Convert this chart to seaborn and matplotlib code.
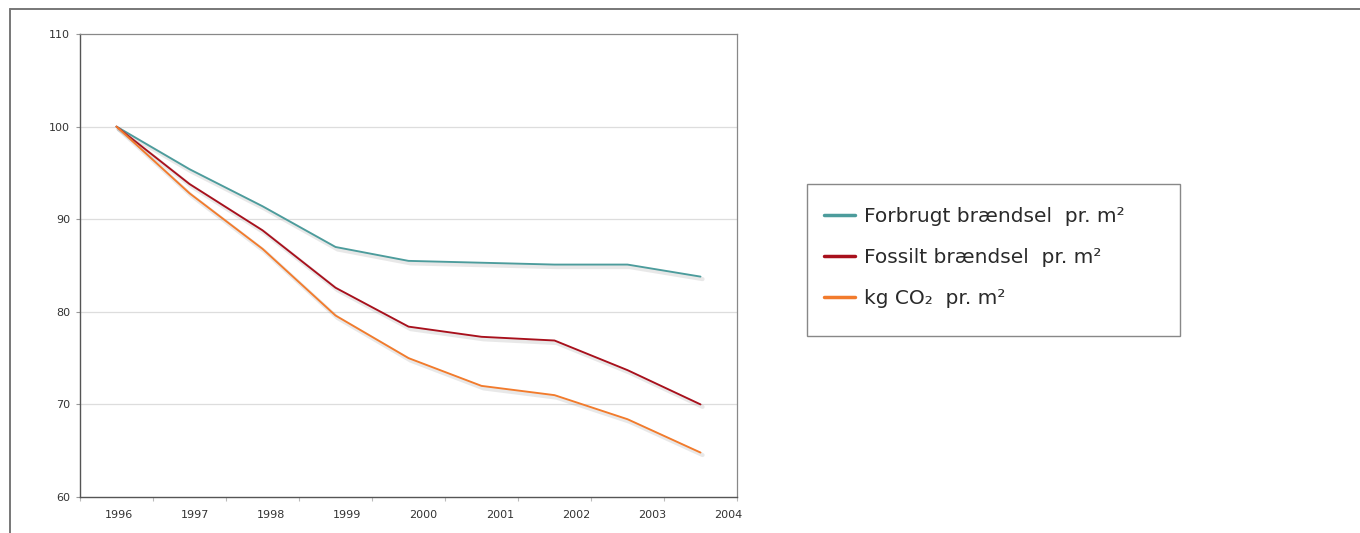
import matplotlib
matplotlib.use("Agg")
import matplotlib.pyplot as plt
import matplotlib.patheffects as pe
from matplotlib.patches import Rectangle
from matplotlib.lines import Line2D
import numpy as np
import pandas as pd
import seaborn as sns

years = ["1996", "1997", "1998", "1999", "2000", "2001", "2002", "2003", "2004"]
forbrugt = [100.0, 95.4, 91.4, 87.0, 85.5, 85.3, 85.1, 85.1, 83.8]
fossilt = [100.0, 93.8, 88.8, 82.6, 78.4, 77.3, 76.9, 73.7, 70.0]
co2 = [100.0, 92.8, 86.8, 79.6, 75.0, 72.0, 71.0, 68.4, 64.8]

series_names = ["Forbrugt brændsel  pr. m²", "Fossilt brændsel  pr. m²", "kg CO₂  pr. m²"]
colors = ["#4c9c9c", "#a8101c", "#f27b2c"]
y_ticks = [60, 70, 80, 90, 100, 110]

df = pd.DataFrame({
    "pos": list(range(len(years))) * 3,
    "value": forbrugt + fossilt + co2,
    "series": [series_names[0]] * len(years) + [series_names[1]] * len(years)
              + [series_names[2]] * len(years),
})

sns.set_style("white")
plt.rcParams["font.family"] = ["DejaVu Sans"]

fig = plt.figure(figsize=(13.6, 5.33), dpi=100)
ax = fig.add_axes([80 / 1360, 1 - 497 / 533, 657 / 1360, 463 / 533])

shadow = [pe.SimpleLineShadow(offset=(1.5, -1.8), shadow_color="#999999", alpha=0.22, linewidth=3),
          pe.Normal()]
sns.lineplot(data=df, x="pos", y="value", hue="series", palette=colors,
             linewidth=1.35, legend=False, ax=ax)
for ln in ax.get_lines():
    ln.set_path_effects(shadow)

ax.set_xlim(-0.5, len(years) - 0.5)
ax.set_ylim(60, 110)
ax.set_yticks(y_ticks)
ax.set_yticklabels([str(v) for v in y_ticks], fontsize=8, color="#333333")
ax.tick_params(axis="y", length=3, width=0.8, color="#999999", pad=4, left=True)

# category boundaries as small tick marks, year labels spread along the axis
ax.set_xticks(np.arange(-0.5, len(years)), minor=True)
ax.set_xticks([0.03 + 1.0445 * i for i in range(len(years))])
ax.set_xticklabels(years, fontsize=8, color="#333333")
ax.tick_params(axis="x", which="major", length=0, pad=9)
ax.tick_params(axis="x", which="minor", length=3, width=0.8, color="#bbbbbb", bottom=True)

for v in y_ticks[1:-1]:
    ax.axhline(v, color="#dddddd", linewidth=0.9, zorder=0)

for side in ["left", "bottom"]:
    ax.spines[side].set_color("#555555")
    ax.spines[side].set_linewidth(1.0)
for side in ["top", "right"]:
    ax.spines[side].set_color("#888888")
    ax.spines[side].set_linewidth(0.9)
ax.set_xlabel("")
ax.set_ylabel("")

# outer frame
fig.add_artist(Line2D([10 / 1360, 1.0], [1 - 8.5 / 533] * 2, transform=fig.transFigure,
                      color="#777777", linewidth=1.4))
fig.add_artist(Line2D([10 / 1360] * 2, [0.0, 1 - 8.5 / 533], transform=fig.transFigure,
                      color="#777777", linewidth=1.4))

# legend box
fig.add_artist(Rectangle((807 / 1360, 1 - 336 / 533), 373 / 1360, 152 / 533,
                         transform=fig.transFigure, fill=False, edgecolor="#888888",
                         linewidth=1.0))
handles = [Line2D([], [], color=c, linewidth=2.5) for c in colors]
fig.legend(handles, series_names, loc="upper left",
           bbox_to_anchor=(806 / 1360, 1 - 189 / 533), frameon=False,
           fontsize=14.5, handlelength=1.55, handletextpad=0.45, labelspacing=1.08,
           labelcolor="#2a2a2a")

fig.savefig("out.png", dpi=100)
